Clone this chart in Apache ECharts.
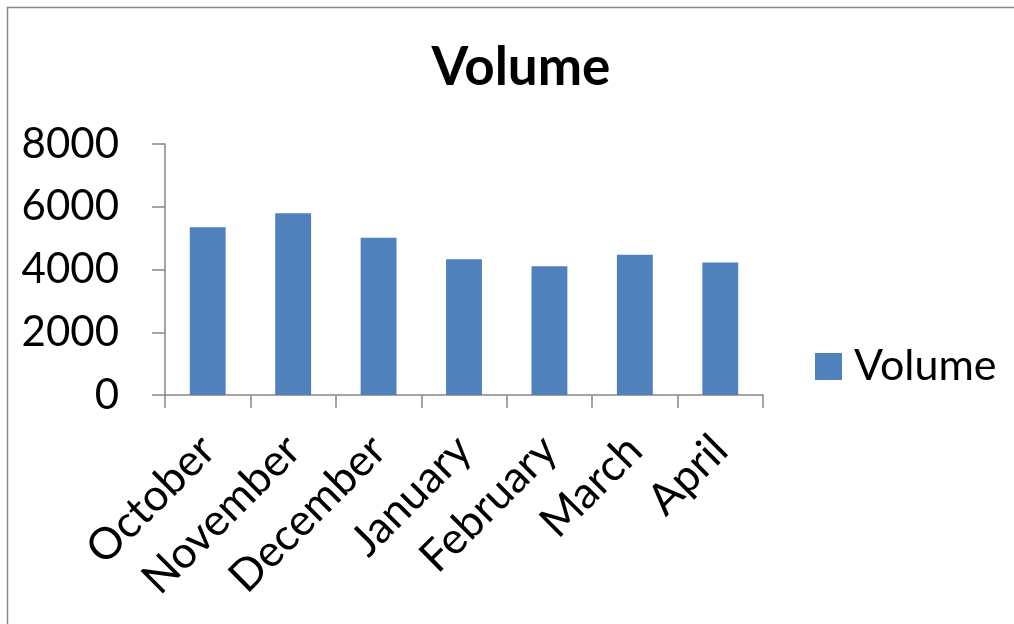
<!DOCTYPE html>
<html>
<head>
<meta charset="utf-8">
<script src="https://cdn.jsdelivr.net/npm/echarts@6/dist/echarts.min.js"></script>
<style>
html,body{margin:0;padding:0;background:#fff;}
#chart{width:1014px;height:624px;}
</style>
</head>
<body>
<div id="chart"></div>
<script>
const categories = ['October','November','December','January','February','March','April'];
const volumeValues = [5350, 5790, 5010, 4330, 4100, 4470, 4220];
const seriesName = 'Volume';
const titleText = 'Volume';

const FONT = 'Lato';
const chart = echarts.init(document.getElementById('chart'));
chart.setOption({
  animation: false,
  backgroundColor: '#fff',
  graphic: [{
    type: 'rect',
    shape: {x: 7.5, y: 7.5, width: 1200, height: 800},
    style: {fill: 'none', stroke: '#888888', lineWidth: 1.5},
    silent: true
  }],
  title: {
    text: titleText,
    left: 516, top: 36, textAlign: 'center',
    textStyle: {fontFamily: FONT, fontWeight: 'bold', fontSize: 53, color: '#000'}
  },
  legend: {
    data: [seriesName],
    orient: 'vertical',
    left: 810, top: 340,
    itemWidth: 27, itemHeight: 27,
    icon: 'rect',
    textStyle: {fontFamily: FONT, fontSize: 43, color: '#000', lineHeight: 27, padding: [0,0,0,7]}
  },
  grid: {left: 165, right: 251, top: 144, bottom: 229, containLabel: false},
  xAxis: {
    type: 'category',
    data: categories,
    axisLine: {lineStyle: {color: '#868686', width: 1.5}},
    axisTick: {show: true, length: 13, alignWithLabel: false, lineStyle: {color: '#868686', width: 1.5}},
    axisLabel: {rotate: 45, margin: 48, interval: 0, fontFamily: FONT, fontSize: 44, color: '#000'},
    splitLine: {show: false}
  },
  yAxis: {
    type: 'value',
    min: 0, max: 8000, interval: 2000,
    axisLine: {show: true, lineStyle: {color: '#868686', width: 1.5}},
    axisTick: {show: true, length: 13, lineStyle: {color: '#868686', width: 1.5}},
    axisLabel: {margin: 46, fontFamily: FONT, fontSize: 42, color: '#000', formatter: function (v) { return String(v); }},
    splitLine: {show: false}
  },
  series: [{
    name: seriesName,
    type: 'bar',
    data: volumeValues,
    barWidth: '42%',
    itemStyle: {color: '#4F81BD'}
  }]
});
</script>
</body>
</html>
